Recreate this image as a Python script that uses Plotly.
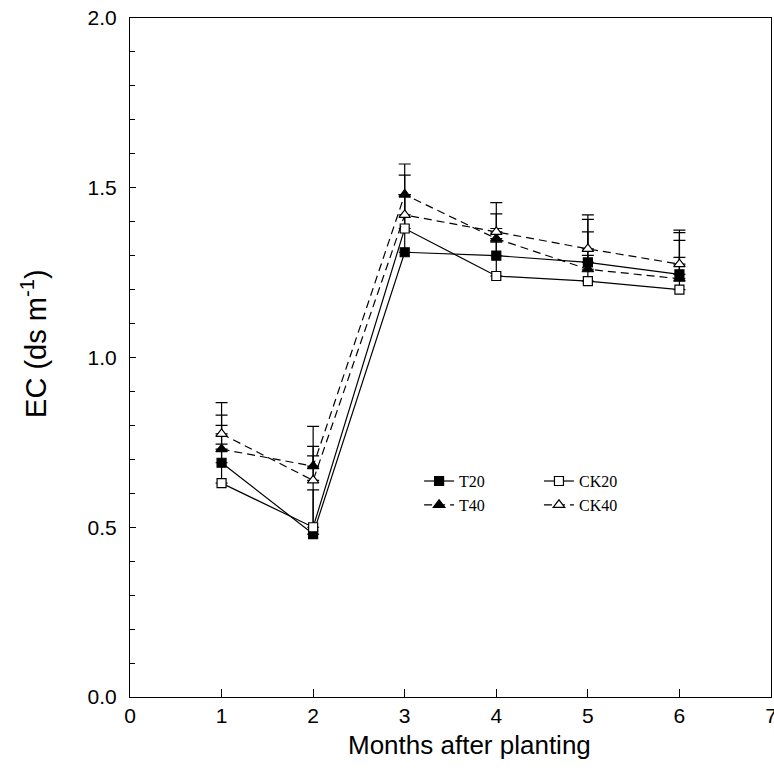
import plotly.graph_objects as go

months = [1, 2, 3, 4, 5, 6]
t20 = [0.69, 0.48, 1.31, 1.30, 1.28, 1.245]
ck20 = [0.63, 0.50, 1.38, 1.24, 1.225, 1.20]
t40 = [0.73, 0.68, 1.48, 1.35, 1.26, 1.232]
ck40 = [0.775, 0.638, 1.42, 1.37, 1.32, 1.275]

t20_err = [0.11, 0.13, 0.17, 0.08, 0.09, 0.10]
ck20_err = [0.115, 0.21, 0.10, 0.10, 0.076, 0.095]
t40_err = [0.10, 0.117, 0.09, 0.073, 0.147, 0.136]
ck40_err = [0.092, 0.10, 0.117, 0.086, 0.10, 0.10]

x_ticks = [0, 1, 2, 3, 4, 5, 6, 7]
y_ticks = [0.0, 0.5, 1.0, 1.5, 2.0]

x_title = "Months after planting"
y_title = "EC (ds m<sup>-1</sup>)"

series = [
    ("T20", t20, t20_err, "solid", "square", "black", "legend"),
    ("T40", t40, t40_err, "8px,5px", "triangle-up", "black", "legend"),
    ("CK20", ck20, ck20_err, "solid", "square", "white", "legend2"),
    ("CK40", ck40, ck40_err, "8px,5px", "triangle-up", "white", "legend2"),
]

fig = go.Figure()
for name, vals, err, dash, sym, fill, leg in series:
    fig.add_trace(go.Scatter(
        x=months, y=vals, name=name, mode="lines+markers",
        line=dict(color="black", width=1.2, dash=dash),
        marker=dict(symbol=sym, size=10 if "triangle" in sym else 9,
                    color=fill, line=dict(color="black", width=1.2)),
        error_y=dict(type="data", array=err, arrayminus=[0] * len(err),
                     symmetric=False, color="black", thickness=1.2, width=6),
        legend=leg,
    ))

legend_common = dict(
    font=dict(family="Liberation Serif", size=16, color="black"),
    bgcolor="rgba(0,0,0,0)", xanchor="left", yanchor="top",
    tracegroupgap=0, itemwidth=30,
)

fig.update_layout(
    width=774, height=772,
    margin=dict(l=130, r=3, t=18, b=75),
    paper_bgcolor="white", plot_bgcolor="white",
    font=dict(family="Liberation Sans", size=20, color="black"),
    legend=dict(x=0.451, y=0.343, **legend_common),
    legend2=dict(x=0.638, y=0.343, **legend_common),
    xaxis=dict(
        range=[0, 7], tickvals=x_ticks, ticks="inside", ticklen=8,
        tickcolor="black", showline=True, linecolor="black", linewidth=1.2,
        mirror=True, showgrid=False, zeroline=False, ticklabeloverflow="allow",
        automargin=False, tickfont=dict(size=21),
    ),
    yaxis=dict(
        range=[0, 2], tickvals=y_ticks, tickformat=".1f", ticks="inside",
        ticklen=6, tickcolor="black", showline=True, linecolor="black",
        linewidth=1.2, mirror=True, showgrid=False, zeroline=False,
        ticklabelstandoff=8, ticklabeloverflow="allow", automargin=False,
        minor=dict(dtick=0.1, ticks="inside", ticklen=5, tickcolor="black"),
        tickfont=dict(size=21),
    ),
    annotations=[
        dict(text=x_title, xref="paper", yref="paper", x=0.530, y=-0.0707,
             xanchor="center", yanchor="middle", showarrow=False,
             font=dict(size=26)),
        dict(text=y_title, xref="paper", yref="paper", x=-0.1498, y=0.5214,
             xanchor="center", yanchor="middle", showarrow=False,
             textangle=-90, font=dict(size=29)),
    ],
)

fig.write_html("out.html")
